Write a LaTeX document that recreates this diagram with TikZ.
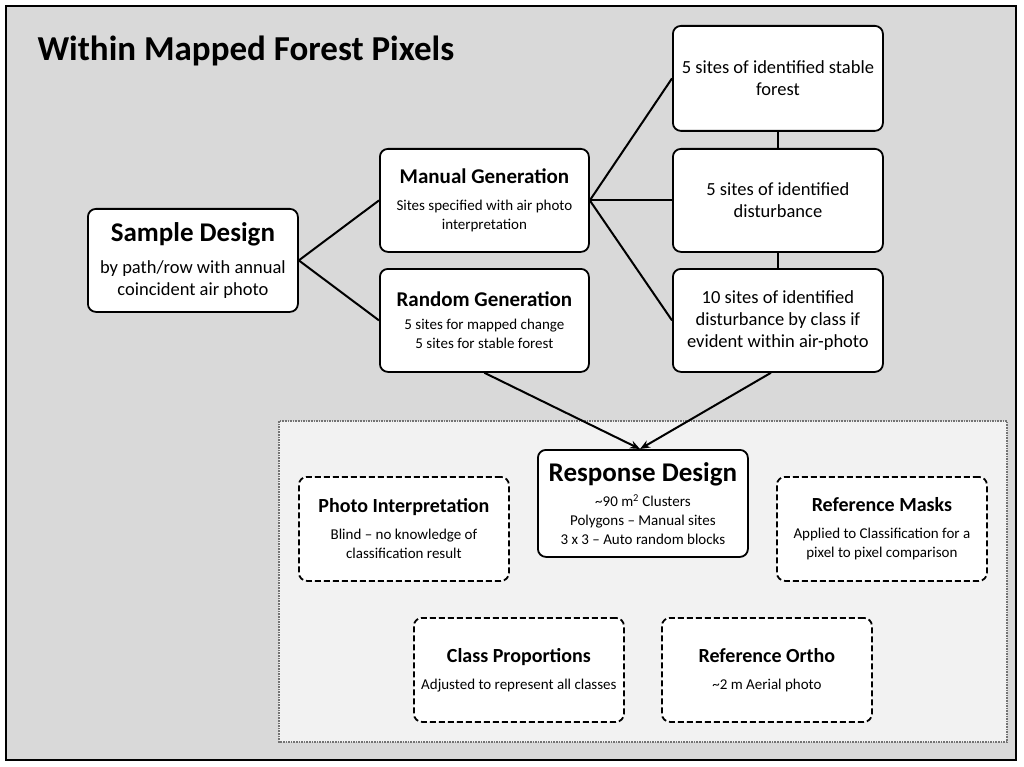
\documentclass[tikz,border=0pt]{standalone}
\usepackage{fontspec}
\setmainfont{Carlito}
\usetikzlibrary{arrows.meta}
\begin{document}
\begin{tikzpicture}[x=1pt,y=-1pt,
 box/.style={draw,line width=1.8pt,rounded corners=8pt,fill=white,minimum width=210pt,minimum height=104pt,align=center,anchor=north west,inner sep=3pt},
 dbox/.style={box,dash pattern=on 6pt off 3pt},
 sm/.style={font=\fontsize{15}{19}\selectfont},
 md/.style={font=\fontsize{18.5}{22}\selectfont},
 ln/.style={line width=2pt},
 ar/.style={ln,-{Stealth[length=10pt,width=8pt]}}]
\useasboundingbox (0,0) rectangle (1024,767);
\draw[line width=1.5pt,fill=black!15] (6,6) rectangle (1016,760);
\node[anchor=west,font=\bfseries\fontsize{35}{40}\selectfont] (title) at (34,51) {Within Mapped Forest Pixels};
\draw[densely dotted,line width=1.6pt,draw=black!55,fill=black!5] (279,421) rectangle (1007,742);
\node[box,md,minimum height=103pt] (sd) at (87,208) {{\bfseries\fontsize{27}{30}\selectfont Sample Design}\\[10pt]by path/row with annual\\coincident air photo};
\node[box,sm,minimum width=209pt,minimum height=103pt] (mg) at (379,148) {{\bfseries\fontsize{21}{25}\selectfont Manual Generation}\\[8pt]Sites specified with air photo\\interpretation};
\node[box,sm,minimum width=209pt,minimum height=103pt] (rg) at (379,268) {{\bfseries\fontsize{21}{25}\selectfont Random Generation}\\[4pt]5 sites for mapped change\\5 sites for stable forest};
\node[box,md,minimum height=105pt] (r1) at (672,25) {5 sites of identified stable\\forest};
\node[box,md,minimum height=103pt] (r2) at (672,148) {5 sites of identified\\disturbance};
\node[box,md,minimum height=103pt] (r3) at (672,268) {10 sites of identified\\disturbance by class if\\evident within air-photo};
\node[box,sm,minimum height=107pt] (rd) at (537,449) {{\bfseries\fontsize{27}{30}\selectfont Response Design}\\[6pt]\textasciitilde90 m\textsuperscript{2} Clusters\\Polygons -- Manual sites\\3 x 3 -- Auto random blocks};
\node[dbox,sm] (pi) at (298,476) {{\bfseries\fontsize{20}{24}\selectfont Photo Interpretation}\\[8pt]Blind -- no knowledge of\\classification result};
\node[dbox,sm] (rm) at (776,476) {{\bfseries\fontsize{20}{24}\selectfont Reference Masks}\\[8pt]Applied to Classification for a\\pixel to pixel comparison};
\node[dbox,sm] (cp) at (413,617) {{\bfseries\fontsize{20}{24}\selectfont Class Proportions}\\[8pt]Adjusted to represent all classes};
\node[dbox,sm] (ro) at (661,617) {{\bfseries\fontsize{20}{24}\selectfont Reference Ortho}\\[8pt]\textasciitilde2 m Aerial photo};
\draw[ln] (sd.east) -- (mg.west);
\draw[ln] (sd.east) -- (rg.west);
\draw[ln] (mg.east) -- (r1.west);
\draw[ln] (mg.east) -- (r2.west);
\draw[ln] (mg.east) -- (r3.west);
\draw[ln] (r1.south) -- (r2.north);
\draw[ln] (r2.south) -- (r3.north);
\coordinate (rdt) at (640,449);
\draw[ar] (rg.south) -- (rdt);
\draw[ar] ([xshift=-7pt]r3.south) -- (rdt);
\end{tikzpicture}
\end{document}
